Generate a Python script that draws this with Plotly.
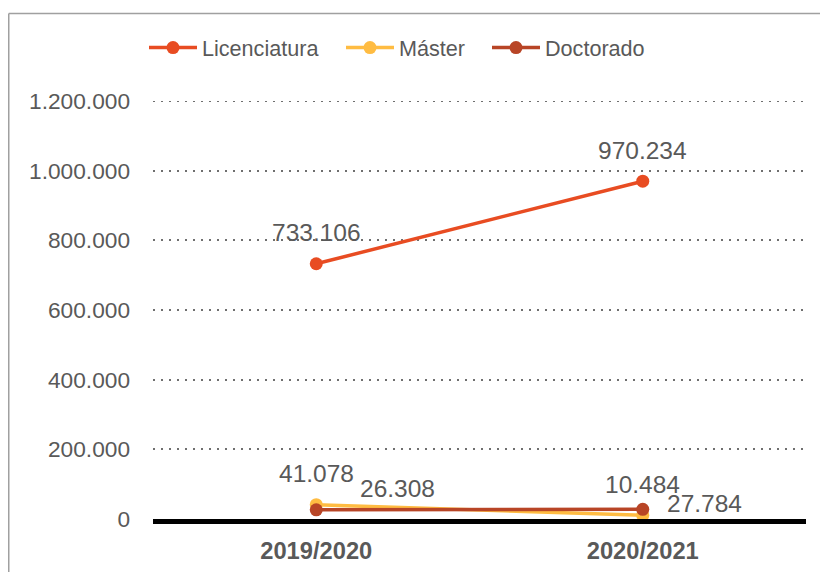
import plotly.graph_objects as go

categories = ["2019/2020", "2020/2021"]
licenciatura = [733106, 970234]
master = [41078, 10484]
doctorado = [26308, 27784]
series_names = ["Licenciatura", "Máster", "Doctorado"]
colors = ["#E84C22", "#FFBC42", "#B84526"]
tick_vals = [0, 200000, 400000, 600000, 800000, 1000000, 1200000]
tick_text = ["0", "200.000", "400.000", "600.000", "800.000", "1.000.000", "1.200.000"]


def fmt(v):
    return f"{v:,}".replace(",", ".")


# page body has an 8px default margin, so figure coordinates are offset by 8px
OFF = 8
W, H = 828, 572
L, T, PW, PH = 153 - OFF, 101 - OFF, 653, 418

legend_ids = ["legend", "legend2", "legend3"]
legend_line_start = [150, 347, 493]

fig = go.Figure()
for name, vals, col, lid in zip(series_names, [licenciatura, master, doctorado], colors, legend_ids):
    fig.add_trace(go.Scatter(
        x=categories, y=vals, name=name, mode="lines+markers",
        line=dict(color=col, width=3.5),
        marker=dict(color=col, size=13),
        cliponaxis=False, legend=lid,
    ))

label_font = dict(family="Liberation Sans, Arial, sans-serif", size=24.5, color="#595959")
ann = []
for vals in (licenciatura, master):
    for c, v in zip(categories, vals):
        ann.append(dict(x=c, y=v, text=fmt(v), showarrow=False, yshift=31, font=label_font))
for c, v, xs, ys in zip(categories, doctorado, [81, 62], [21, 6]):
    ann.append(dict(x=c, y=v, text=fmt(v), showarrow=False, xshift=xs, yshift=ys, font=label_font))

bx = (0.75 - L) / PW
by = (T + PH - (13.5 - OFF)) / PH

legend_layout = {}
for lid, xs in zip(legend_ids, legend_line_start):
    legend_layout[lid] = dict(
        orientation="h", xref="container", yref="container",
        x=(xs - 6 - OFF) / W, xanchor="left", y=1 - (48 - OFF) / H, yanchor="middle",
        font=dict(size=21.6, color="#595959"), itemwidth=48,
        bgcolor="rgba(0,0,0,0)",
    )

fig.update_layout(
    width=W, height=H,
    margin=dict(l=L, r=W - L - PW, t=T, b=H - T - PH, autoexpand=False),
    paper_bgcolor="white", plot_bgcolor="white",
    font=dict(family="Liberation Sans, Arial, sans-serif", color="#595959"),
    showlegend=True,
    annotations=ann,
    shapes=[
        dict(type="line", xref="paper", yref="paper",
             x0=bx, x1=1.2, y0=by, y1=by,
             line=dict(color="#A0A0A0", width=1.5)),
        dict(type="line", xref="paper", yref="paper",
             x0=bx, x1=bx, y0=by, y1=-0.3,
             line=dict(color="#A0A0A0", width=1.5)),
        dict(type="line", xref="paper", yref="y", layer="below",
             x0=0, x1=1, y0=tick_vals[-1], y1=tick_vals[-1],
             line=dict(color="#6F6F6F", width=1.8, dash="2px,6px")),
    ],
    **legend_layout,
)
fig.update_xaxes(
    type="category", range=[-0.5, 1.5],
    showgrid=False, zeroline=False,
    showline=True, linecolor="black", linewidth=5,
    tickfont=dict(size=23.7, color="#595959", family="Liberation Sans, Arial, sans-serif", weight="bold"),
    ticks="", ticklabelstandoff=7, automargin=False,
)
fig.update_yaxes(
    range=[0, 1200600], tickvals=tick_vals, ticktext=tick_text,
    showgrid=True, gridcolor="#6F6F6F", griddash="2px,6px", gridwidth=1.8,
    zeroline=False, showline=False, ticks="", automargin=False,
    tickfont=dict(size=22.7, color="#595959"), ticklabelstandoff=22,
)
fig.write_html("out.html")
